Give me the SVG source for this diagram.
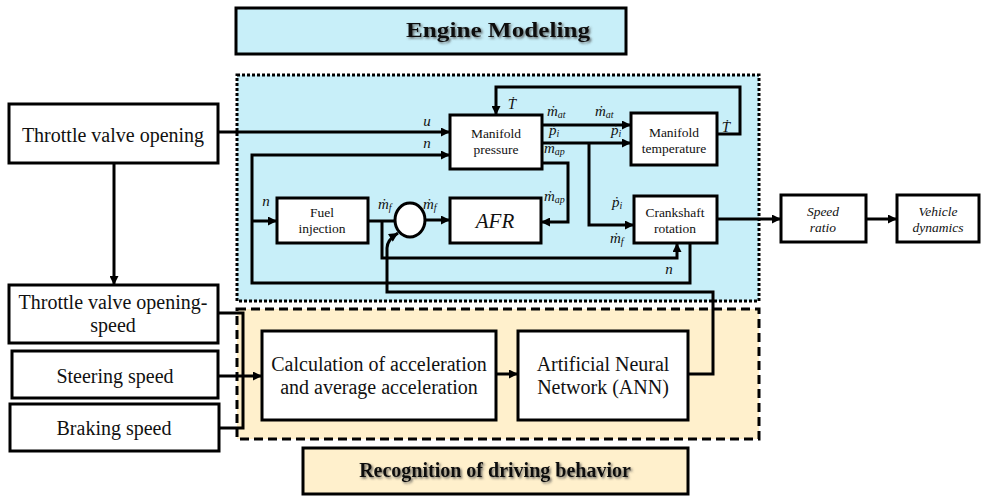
<svg xmlns="http://www.w3.org/2000/svg" width="981" height="496" viewBox="0 0 981 496">
  <defs>
    <marker id="ah" viewBox="0 0 10 10" refX="10" refY="5" markerWidth="10" markerHeight="9" markerUnits="userSpaceOnUse" orient="auto">
      <path d="M0,0 L10,5 L0,10 z" fill="#000"/>
    </marker>
    <filter id="shadow" x="-10%" y="-30%" width="120%" height="160%">
      <feDropShadow dx="1.5" dy="1.5" stdDeviation="1" flood-color="#444" flood-opacity="0.8"/>
    </filter>
  </defs>
  <style>
    .box { fill: #fff; stroke: #000; stroke-width: 3; }
    .wire { fill: none; stroke: #000; stroke-width: 3; }
    .arr { marker-end: url(#ah); }
    .t { font-family: "Liberation Serif", "DejaVu Serif", serif; fill: #111; text-anchor: middle; }
    .big { font-size: 20px; }
    .small { font-size: 13.5px; }
    .it { font-style: italic; }
    .math { font-family: "Liberation Serif", "DejaVu Serif", serif; font-style: italic; fill: #111; font-size: 15px; }
    .sub { font-size: 10px; }
    .title { font-family: "Liberation Serif", "DejaVu Serif", serif; font-weight: bold; fill: #111; text-anchor: middle; filter: url(#shadow); }
  </style>

  <!-- section backgrounds -->
  <g id="engine-region">
    <rect x="237" y="75" width="522" height="226" fill="#C8EFF9" stroke="#000" stroke-width="3" stroke-dasharray="3 2"/>
  </g>
  <g id="driver-region">
    <rect x="237" y="309" width="522" height="130" fill="#FFF0CC" stroke="#000" stroke-width="3" stroke-dasharray="9 5"/>
  </g>

  <!-- section titles -->
  <g id="engine-title">
    <rect x="236" y="8" width="390" height="46" fill="#C8EFF9" stroke="#000" stroke-width="3"/>
    <text class="title" x="498" y="37" font-size="22" textLength="184" lengthAdjust="spacingAndGlyphs">Engine Modeling</text>
  </g>
  <g id="driver-title">
    <rect x="303" y="448" width="385" height="46" fill="#FFF0CC" stroke="#000" stroke-width="3"/>
    <text class="title" x="495" y="477" font-size="20">Recognition of driving behavior</text>
  </g>

  <!-- connectors -->
  <g id="connectors">
    <path class="wire arr" d="M218,132 H450"/>
    <path class="wire arr" d="M690,243 V283 H252 V155 H450"/>
    <path class="wire arr" d="M252,221 H277"/>
    <path class="wire arr" d="M717,134 H740 V87 H496 V115"/>
    <path class="wire arr" d="M542,125 H631"/>
    <path class="wire arr" d="M542,143 H631"/>
    <path class="wire arr" d="M589,143 V225 H634"/>
    <path class="wire arr" d="M542,163 H568 V222 H541"/>
    <path class="wire" d="M368,221 H395"/>
    <path class="wire arr" d="M425,220 H450"/>
    <path class="wire arr" d="M382,221 V258 H677 V243"/>
    <path class="wire arr" d="M717,219 H781"/>
    <path class="wire arr" d="M866,219 H897"/>
    <path class="wire arr" d="M114,163 V285"/>
    <path class="wire" d="M218,313 H243 V428 H219"/>
    <path class="wire arr" d="M218,376 H262"/>
    <path class="wire arr" d="M496,374 H518"/>
    <path class="wire arr" d="M688,374 H713 V292 H387 V248 Q387,240 398,233"/>
  </g>

  <!-- signal labels -->
  <g id="signal-labels">
    <text class="math" x="427" y="126" text-anchor="middle" font-size="18">u</text>
    <text class="math" x="427" y="148" text-anchor="middle" font-size="18">n</text>
    <text class="math" x="266" y="206" text-anchor="middle" font-size="18">n</text>
    <text class="math" x="669" y="274" text-anchor="middle" font-size="18">n</text>
    <text class="math" x="512" y="109" text-anchor="middle" font-size="16">Ṫ</text>
    <text class="math" x="726" y="132" text-anchor="middle" font-size="16">Ṫ</text>
    <text class="math" x="547" y="116">ṁ<tspan class="sub" dy="2">at</tspan></text>
    <text class="math" x="595" y="116">ṁ<tspan class="sub" dy="2">at</tspan></text>
    <text class="math" x="549" y="135">ṗ<tspan class="sub" dy="2">i</tspan></text>
    <text class="math" x="611" y="135">ṗ<tspan class="sub" dy="2">i</tspan></text>
    <text class="math" x="544" y="153">ṁ<tspan class="sub" dy="2">ap</tspan></text>
    <text class="math" x="544" y="201">ṁ<tspan class="sub" dy="2">ap</tspan></text>
    <text class="math" x="612" y="207">ṗ<tspan class="sub" dy="2">i</tspan></text>
    <text class="math" x="610" y="243">ṁ<tspan class="sub" dy="2">f</tspan></text>
    <text class="math" x="378" y="209">ṁ<tspan class="sub" dy="2">f</tspan></text>
    <text class="math" x="423" y="209">ṁ<tspan class="sub" dy="2">f</tspan></text>
  </g>

  <!-- input blocks -->
  <g id="throttle-opening">
    <rect class="box" x="9" y="104" width="209" height="59"/>
    <text class="t big" x="113" y="142">Throttle valve opening</text>
  </g>
  <g id="throttle-speed">
    <rect class="box" x="9" y="285" width="209" height="58"/>
    <text class="t big" x="113" y="309">Throttle valve opening-</text>
    <text class="t big" x="113" y="332">speed</text>
  </g>
  <g id="steering-speed">
    <rect class="box" x="12" y="351" width="206" height="47"/>
    <text class="t big" x="115" y="383">Steering speed</text>
  </g>
  <g id="braking-speed">
    <rect class="box" x="10" y="404" width="209" height="47"/>
    <text class="t big" x="114" y="435">Braking speed</text>
  </g>

  <!-- engine blocks -->
  <g id="manifold-pressure">
    <rect class="box" x="450" y="115" width="92" height="54"/>
    <text class="t small" x="496" y="138">Manifold</text>
    <text class="t small" x="496" y="154">pressure</text>
  </g>
  <g id="manifold-temperature">
    <rect class="box" x="631" y="113" width="86" height="52"/>
    <text class="t small" x="674" y="137">Manifold</text>
    <text class="t small" x="674" y="153">temperature</text>
  </g>
  <g id="fuel-injection">
    <rect class="box" x="277" y="198" width="91" height="45"/>
    <text class="t small" x="322" y="217">Fuel</text>
    <text class="t small" x="322" y="233">injection</text>
  </g>
  <g id="sum-junction">
    <ellipse cx="410" cy="220" rx="15" ry="17" fill="#fff" stroke="#000" stroke-width="3"/>
  </g>
  <g id="afr">
    <rect class="box" x="450" y="198" width="91" height="45"/>
    <text class="t it" x="495" y="228" font-size="21">AFR</text>
  </g>
  <g id="crankshaft-rotation">
    <rect class="box" x="634" y="196" width="83" height="47"/>
    <text class="t small" x="675" y="217">Crankshaft</text>
    <text class="t small" x="675" y="233">rotation</text>
  </g>

  <!-- downstream blocks -->
  <g id="speed-ratio">
    <rect class="box" x="781" y="195" width="85" height="47"/>
    <text class="t small it" x="823" y="216">Speed</text>
    <text class="t small it" x="823" y="232">ratio</text>
  </g>
  <g id="vehicle-dynamics">
    <rect class="box" x="897" y="195" width="82" height="47"/>
    <text class="t small it" x="938" y="216">Vehicle</text>
    <text class="t small it" x="938" y="232">dynamics</text>
  </g>

  <!-- driving behaviour blocks -->
  <g id="acceleration-calc">
    <rect class="box" x="262" y="331" width="234" height="89"/>
    <text class="t big" x="379" y="371">Calculation of acceleration</text>
    <text class="t big" x="379" y="394">and average acceleration</text>
  </g>
  <g id="ann">
    <rect class="box" x="518" y="331" width="170" height="89"/>
    <text class="t big" x="603" y="371">Artificial Neural</text>
    <text class="t big" x="603" y="394">Network (ANN)</text>
  </g>
</svg>
